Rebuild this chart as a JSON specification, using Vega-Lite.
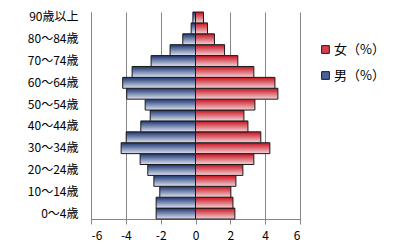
{
  "$schema": "https://vega.github.io/schema/vega-lite/v6.json",
  "autosize": {"type": "none"},
  "padding": {"left": 91, "top": 12, "right": 110, "bottom": 33},
  "width": 209,
  "height": 207,
  "background": "white",
  "config": {
    "view": {"stroke": null},
    "font": "Noto Sans CJK JP",
    "axis": {"labelFont": "Noto Sans CJK JP", "labelColor": "#000000", "labelFontSize": 12}
  },
  "data": {
    "values": [
      {"age": "0～4歳", "sex": "男（%）", "value": -2.26},
      {"age": "5～9歳", "sex": "男（%）", "value": -2.26},
      {"age": "10～14歳", "sex": "男（%）", "value": -2.05},
      {"age": "15～19歳", "sex": "男（%）", "value": -2.39},
      {"age": "20～24歳", "sex": "男（%）", "value": -2.74},
      {"age": "25～29歳", "sex": "男（%）", "value": -3.18},
      {"age": "30～34歳", "sex": "男（%）", "value": -4.27},
      {"age": "35～39歳", "sex": "男（%）", "value": -3.98},
      {"age": "40～44歳", "sex": "男（%）", "value": -3.14},
      {"age": "45～49歳", "sex": "男（%）", "value": -2.6},
      {"age": "50～54歳", "sex": "男（%）", "value": -2.89},
      {"age": "55～59歳", "sex": "男（%）", "value": -3.95},
      {"age": "60～64歳", "sex": "男（%）", "value": -4.18},
      {"age": "65～69歳", "sex": "男（%）", "value": -3.64},
      {"age": "70～74歳", "sex": "男（%）", "value": -2.55},
      {"age": "75～79歳", "sex": "男（%）", "value": -1.46},
      {"age": "80～84歳", "sex": "男（%）", "value": -0.73},
      {"age": "85～89歳", "sex": "男（%）", "value": -0.25},
      {"age": "90歳以上", "sex": "男（%）", "value": -0.15},
      {"age": "0～4歳", "sex": "女（%）", "value": 2.26},
      {"age": "5～9歳", "sex": "女（%）", "value": 2.15},
      {"age": "10～14歳", "sex": "女（%）", "value": 2.03},
      {"age": "15～19歳", "sex": "女（%）", "value": 2.32},
      {"age": "20～24歳", "sex": "女（%）", "value": 2.72},
      {"age": "25～29歳", "sex": "女（%）", "value": 3.35},
      {"age": "30～34歳", "sex": "女（%）", "value": 4.27},
      {"age": "35～39歳", "sex": "女（%）", "value": 3.75},
      {"age": "40～44歳", "sex": "女（%）", "value": 3.01},
      {"age": "45～49歳", "sex": "女（%）", "value": 2.78},
      {"age": "50～54歳", "sex": "女（%）", "value": 3.41},
      {"age": "55～59歳", "sex": "女（%）", "value": 4.73},
      {"age": "60～64歳", "sex": "女（%）", "value": 4.56},
      {"age": "65～69歳", "sex": "女（%）", "value": 3.35},
      {"age": "70～74歳", "sex": "女（%）", "value": 2.43},
      {"age": "75～79歳", "sex": "女（%）", "value": 1.67},
      {"age": "80～84歳", "sex": "女（%）", "value": 1.09},
      {"age": "85～89歳", "sex": "女（%）", "value": 0.69},
      {"age": "90歳以上", "sex": "女（%）", "value": 0.46}
    ]
  },
  "encoding": {
    "y": {
      "field": "age",
      "type": "nominal",
      "sort": ["90歳以上", "85～89歳", "80～84歳", "75～79歳", "70～74歳", "65～69歳", "60～64歳", "55～59歳", "50～54歳", "45～49歳", "40～44歳", "35～39歳", "30～34歳", "25～29歳", "20～24歳", "15～19歳", "10～14歳", "5～9歳", "0～4歳"],
      "scale": {"paddingInner": 0, "paddingOuter": 0},
      "axis": {
        "title": null,
        "values": ["90歳以上", "80～84歳", "70～74歳", "60～64歳", "50～54歳", "40～44歳", "30～34歳", "20～24歳", "10～14歳", "0～4歳"],
        "ticks": false,
        "labelPadding": 13,
        "domainColor": "#868686",
        "grid": false
      }
    },
    "x": {
      "field": "value",
      "type": "quantitative",
      "scale": {"domain": [-6, 6], "nice": false},
      "axis": {
        "title": null,
        "values": [-6, -4, -2, 0, 2, 4, 6],
        "labelExpr": "toString(datum.value)",
        "grid": true,
        "gridColor": "#868686",
        "gridOpacity": 1,
        "domainColor": "#868686",
        "tickColor": "#868686",
        "tickSize": 5,
        "labelPadding": 6
      }
    }
  },
  "layer": [
    {
      "transform": [{"filter": "datum.sex === '女（%）'"}],
      "mark": {
        "type": "bar", "stroke": "#1a1a1a", "strokeWidth": 1,
        "fill": {"gradient": "linear", "x1": 0, "y1": 0, "x2": 0, "y2": 1, "stops": [{"offset": 0, "color": "#c8101c"}, {"offset": 1, "color": "#f2d4d8"}]}
      }
    },
    {
      "transform": [{"filter": "datum.sex === '男（%）'"}],
      "mark": {
        "type": "bar", "stroke": "#1a1a1a", "strokeWidth": 1,
        "fill": {"gradient": "linear", "x1": 0, "y1": 0, "x2": 0, "y2": 1, "stops": [{"offset": 0, "color": "#1a3470"}, {"offset": 1, "color": "#dde2f2"}]}
      }
    },
    {
      "mark": {"type": "square", "opacity": 0},
      "encoding": {
        "color": {
          "field": "sex",
          "type": "nominal",
          "scale": {"domain": ["女（%）", "男（%）"], "range": ["#d8404c", "#4a5f9c"]},
          "legend": {
            "title": null,
            "orient": "none",
            "legendX": 228,
            "legendY": 31,
            "symbolType": "square",
            "symbolSize": 60,
            "symbolOpacity": 1,
            "symbolStrokeColor": "#1a1a1a",
            "symbolStrokeWidth": 1,
            "labelFont": "Noto Sans CJK JP",
            "labelFontSize": 13,
            "labelColor": "#000000",
            "labelOffset": 2,
            "rowPadding": 12
          }
        }
      }
    }
  ]
}
